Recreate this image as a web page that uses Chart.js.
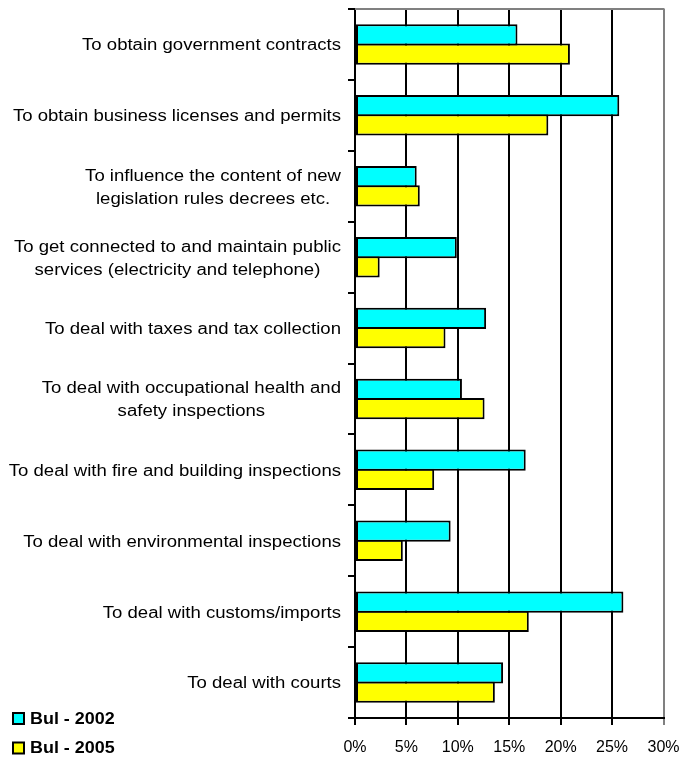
<!DOCTYPE html>
<html>
<head>
<meta charset="utf-8">
<script src="https://cdn.jsdelivr.net/npm/chart.js@4/dist/chart.umd.min.js"></script>
<style>
  html, body { margin: 0; padding: 0; background: #fff; }
  #wrap { width: 681px; height: 757px; position: relative; }
</style>
</head>
<body>
<div id="wrap"><canvas id="myChart"></canvas></div>
<script>
var categorias = [
  ["To obtain government contracts"],
  ["To obtain business licenses and permits"],
  ["To influence the content of new", "legislation rules decrees etc."],
  ["To get connected to and maintain public", "services (electricity and telephone)"],
  ["To deal with taxes and tax collection"],
  ["To deal with occupational health and", "safety inspections"],
  ["To deal with fire and building inspections"],
  ["To deal with environmental inspections"],
  ["To deal with customs/imports"],
  ["To deal with courts"]
];
var bul2002 = [15.8, 25.7, 6.0, 9.9, 12.75, 10.4, 16.6, 9.3, 26.1, 14.4];
var bul2005 = [20.9, 18.8, 6.3, 2.4, 8.8, 12.6, 7.7, 4.65, 16.9, 13.6];
var tickLabelsX = [0, 5, 10, 15, 20, 25, 30];

var esticar = 1.16; // texts in the picture look horizontally stretched

// desenha rótulos do eixo y, borda de cima e a legenda
var extras = {
  id: "extras",
  afterDraw: function (chart) {
    var ctx = chart.ctx;
    var area = chart.chartArea;
    var y = chart.scales.y;

    ctx.save();
    ctx.strokeStyle = "#808080";
    ctx.lineWidth = 2;
    ctx.beginPath();
    ctx.moveTo(area.left, area.top);
    ctx.lineTo(area.right + 1, area.top);
    ctx.stroke();
    ctx.restore();

    ctx.save();
    ctx.font = "16px 'Liberation Sans', Arial, sans-serif";
    ctx.fillStyle = "#000";
    ctx.textAlign = "center";
    ctx.textBaseline = "middle";
    for (var i = 0; i < categorias.length; i++) {
      var linhas = categorias[i];
      var maxW = 0;
      linhas.forEach(function (l) {
        maxW = Math.max(maxW, ctx.measureText(l).width * esticar);
      });
      var cx = 341 - maxW / 2;
      var cy = y.getPixelForValue(i) + 1.5;
      for (var k = 0; k < linhas.length; k++) {
        var ly = cy + (k - (linhas.length - 1) / 2) * 23;
        ctx.save();
        ctx.translate(cx, ly);
        ctx.scale(esticar, 1);
        ctx.fillText(linhas[k], 0, 0);
        ctx.restore();
      }
    }
    ctx.restore();

    // legenda
    ctx.save();
    ctx.font = "bold 16px 'Liberation Sans', Arial, sans-serif";
    ctx.textBaseline = "middle";
    ctx.textAlign = "left";
    chart.data.datasets.forEach(function (ds, j) {
      var ly = 718.5 + j * 29.5;
      ctx.fillStyle = ds.backgroundColor;
      ctx.fillRect(13, ly - 5.5, 11, 11);
      ctx.strokeStyle = "#000";
      ctx.lineWidth = 2;
      ctx.strokeRect(13, ly - 5.5, 11, 11);
      ctx.fillStyle = "#000";
      ctx.save();
      ctx.translate(30, ly + 1);
      ctx.scale(1.12, 1);
      ctx.fillText(ds.label, 0, 0);
      ctx.restore();
    });
    ctx.restore();
  }
};

var ctx = document.getElementById("myChart");
var data = {
  labels: categorias,
  datasets: [
    {
      label: "Bul - 2002",
      data: bul2002,
      backgroundColor: "#00FFFF",
      borderColor: "#000000",
      borderWidth: 2,
      borderSkipped: false
    },
    {
      label: "Bul - 2005",
      data: bul2005,
      backgroundColor: "#FFFF00",
      borderColor: "#000000",
      borderWidth: 2,
      borderSkipped: false
    }
  ]
};

var config = {
  type: "bar",
  data: data,
  options: {
    indexAxis: "y",
    responsive: true,
    maintainAspectRatio: false,
    animation: false,
    // bars touch and share one border, like the picture
    categoryPercentage: 0.543,
    barPercentage: 1.104,
    layout: { padding: { top: 9, right: 17.5, bottom: 0, left: 0 } },
    plugins: {
      legend: { display: false },
      tooltip: { enabled: false }
    },
    scales: {
      x: {
        min: 0,
        max: 30,
        afterBuildTicks: function (scale) {
          scale.ticks = tickLabelsX.map(function (v) { return { value: v }; });
        },
        afterFit: function (scale) {
          scale.height = 39;
          scale.paddingLeft = 0;
          scale.paddingRight = 0;
        },
        grid: {
          color: function (c) { return c.tick && c.tick.value === 30 ? "#808080" : "#000000"; },
          lineWidth: 2,
          tickLength: 7
        },
        border: { color: "#000000", width: 2 },
        ticks: {
          color: "#000",
          padding: 13,
          maxRotation: 0,
          font: { family: "'Liberation Sans', Arial, sans-serif", size: 16 },
          callback: function (v) { return v + "%"; }
        }
      },
      y: {
        afterFit: function (scale) {
          scale.width = 355;
          scale.paddingTop = 0;
          scale.paddingBottom = 0;
        },
        grid: {
          offset: true,
          drawOnChartArea: false,
          color: "#000000",
          lineWidth: 2,
          tickLength: 7
        },
        border: { color: "#000000", width: 2 },
        ticks: { display: false }
      }
    }
  },
  plugins: [extras]
};

var myChart = new Chart(ctx, config);
</script>
</body>
</html>
